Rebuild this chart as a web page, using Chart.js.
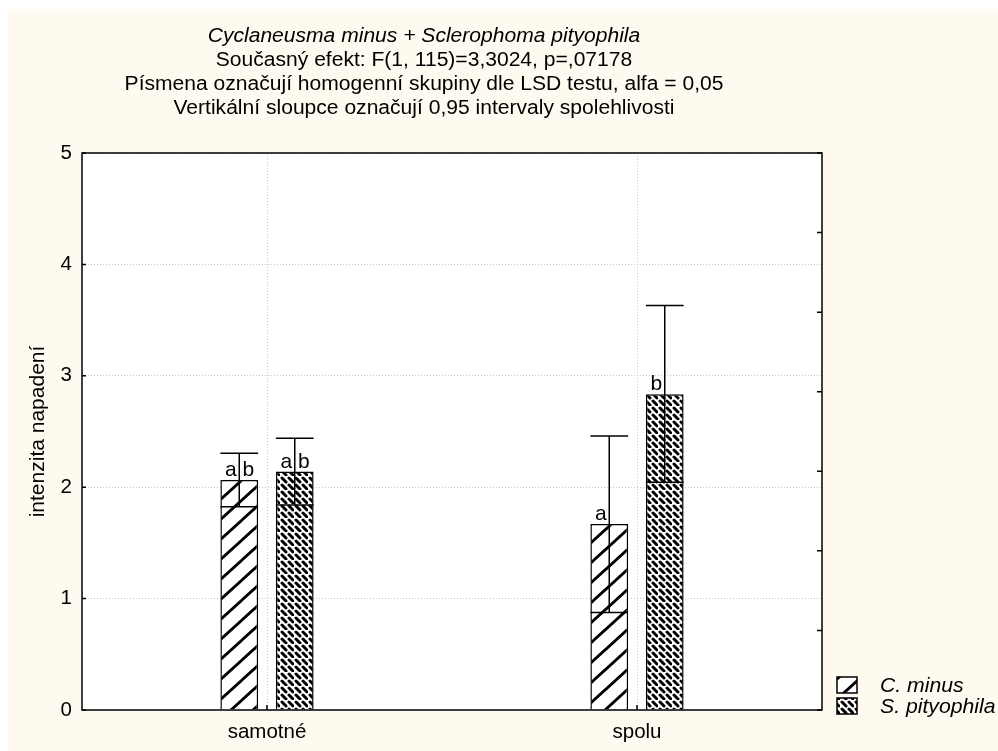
<!DOCTYPE html>
<html lang="cs">
<head>
<meta charset="UTF-8">
<title>Cyclaneusma minus + Sclerophoma pityophila</title>
<style>
    body { margin: 0; background: #ffffff; }
    #wrap { width: 998px; height: 751px; }
</style>
<script src="https://cdn.jsdelivr.net/npm/chart.js"></script>
</head>
<body>
<div id="wrap"><canvas id="chart" width="998" height="751"></canvas></div>
<script>
// kategorie a hodnoty (průměr, 95% interval)
const categories = ['samotné', 'spolu'];
const seriesNames = ['C. minus', 'S. pityophila'];
const cMinusMean = [2.065, 1.67];
const cMinusLow = [1.825, 0.875];
const cMinusHigh = [2.305, 2.46];
const sPitMean = [2.14, 2.835];
const sPitLow = [1.84, 2.045];
const sPitHigh = [2.44, 3.63];
// homogenní skupiny (první písmeno vlevo od úsečky, druhé vpravo)
const cMinusLetters = ['ab', 'a'];
const sPitLetters = ['ab', 'b'];
const yMin = 0, yMax = 5, yStep = 1;
const titleLines = [
    'Cyclaneusma minus + Sclerophoma pityophila',
    'Současný efekt: F(1, 115)=3,3024, p=,07178',
    'Písmena označují homogenní skupiny dle LSD testu, alfa = 0,05',
    'Vertikální sloupce označují 0,95 intervaly spolehlivosti'
];
const yTitle = 'intenzita napadení';

const FONT = '"Liberation Sans", Arial, sans-serif';
const CREAM = '#fefaf0';

// šrafování: šikmé čáry
function makeHatch() {
    const c = document.createElement('canvas');
    c.width = 22; c.height = 20;
    const g = c.getContext('2d');
    g.fillStyle = '#fff'; g.fillRect(0, 0, 22, 20);
    g.strokeStyle = '#000'; g.lineWidth = 2.8; g.lineCap = 'square';
    g.beginPath();
    g.moveTo(0, 20); g.lineTo(22, 0);
    g.moveTo(-22, 20); g.lineTo(0, 0);
    g.moveTo(22, 20); g.lineTo(44, 0);
    g.stroke();
    return g.createPattern(c, 'repeat');
}

// šrafování: "pletivo"
function makeWeave() {
    const c = document.createElement('canvas');
    c.width = 14; c.height = 14;
    const g = c.getContext('2d');
    g.fillStyle = '#fff'; g.fillRect(0, 0, 14, 14);
    g.strokeStyle = '#000'; g.lineWidth = 3; g.lineCap = 'round';
    g.beginPath();
    g.moveTo(2, 2); g.lineTo(6, 6);
    g.moveTo(9, 9); g.lineTo(13, 13);
    g.moveTo(9, 2); g.lineTo(13, 6);
    g.moveTo(2, 9); g.lineTo(6, 13);
    g.stroke();
    return g.createPattern(c, 'repeat');
}

const hatch = makeHatch();
const weave = makeWeave();

function scaledText(ctx, text, x, y, font, sx) {
    ctx.save();
    ctx.font = font;
    ctx.translate(x, y);
    ctx.scale(sx, 1);
    ctx.fillText(text, 0, 0);
    ctx.restore();
}

const background = {
    id: 'background',
    beforeDraw(chart) {
        const ctx = chart.ctx, a = chart.chartArea;
        ctx.save();
        ctx.fillStyle = '#ffffff';
        ctx.fillRect(0, 0, chart.width, chart.height);
        ctx.fillStyle = CREAM;
        ctx.fillRect(8, 9, chart.width - 8, chart.height - 9);
        ctx.fillStyle = '#ffffff';
        ctx.fillRect(a.left, a.top, a.right - a.left, a.bottom - a.top);
        ctx.restore();
    }
};

const errorBars = {
    id: 'errorBars',
    afterDatasetsDraw(chart) {
        const ctx = chart.ctx, y = chart.scales.y;
        const lows = [cMinusLow, sPitLow];
        const highs = [cMinusHigh, sPitHigh];
        const letters = [cMinusLetters, sPitLetters];
        ctx.save();
        ctx.strokeStyle = '#000';
        ctx.lineWidth = 1.5;
        chart.data.datasets.forEach((ds, i) => {
            chart.getDatasetMeta(i).data.forEach((bar, j) => {
                const half = bar.width / 2;
                const yl = y.getPixelForValue(lows[i][j]);
                const yh = y.getPixelForValue(highs[i][j]);
                ctx.beginPath();
                ctx.moveTo(bar.x, yl); ctx.lineTo(bar.x, yh);
                ctx.moveTo(bar.x - half, yh); ctx.lineTo(bar.x + half, yh);
                ctx.moveTo(bar.x - half, yl); ctx.lineTo(bar.x + half, yl);
                ctx.stroke();
                const t = letters[i][j];
                ctx.fillStyle = '#000';
                ctx.textAlign = 'center';
                ctx.textBaseline = 'alphabetic';
                ctx.font = '21px ' + FONT;
                if (t[0]) ctx.fillText(t[0], bar.x - 8.5, bar.y - 4);
                if (t[1]) ctx.fillText(t[1], bar.x + 9, bar.y - 4);
            });
        });
        ctx.restore();
    }
};

const frame = {
    id: 'frame',
    afterDraw(chart) {
        const ctx = chart.ctx, a = chart.chartArea;
        const x = chart.scales.x, y = chart.scales.y, y2 = chart.scales.y2;
        ctx.save();
        ctx.strokeStyle = '#000';
        ctx.lineWidth = 1.5;
        ctx.strokeRect(a.left, a.top, a.right - a.left, a.bottom - a.top);
        ctx.beginPath();
        // levá osa - ticky dovnitř
        y.ticks.forEach(t => {
            const py = y.getPixelForValue(t.value);
            ctx.moveTo(a.left, py); ctx.lineTo(a.left + 4, py);
        });
        // pravá osa
        y2.ticks.forEach(t => {
            const py = y2.getPixelForValue(t.value);
            ctx.moveTo(a.right, py); ctx.lineTo(a.right - 5, py);
        });
        // spodní osa
        categories.forEach((c, i) => {
            const px = x.getPixelForValue(i);
            ctx.moveTo(px, a.bottom); ctx.lineTo(px, a.bottom - 5);
        });
        ctx.stroke();

        // nadpis
        ctx.fillStyle = '#000';
        ctx.textAlign = 'center';
        ctx.textBaseline = 'middle';
        titleLines.forEach((line, i) => {
            const f = (i === 0 ? 'italic ' : '') + '19.5px ' + FONT;
            scaledText(ctx, line, 424, 37 + i * 24, f, 1.08);
        });

        // popisek osy y
        ctx.save();
        ctx.translate(38, (a.top + a.bottom) / 2);
        ctx.rotate(-Math.PI / 2);
        ctx.font = '21px ' + FONT;
        ctx.fillText(yTitle, 0, 0);
        ctx.restore();

        // legenda
        const fills = [hatch, weave];
        ctx.textAlign = 'left';
        seriesNames.forEach((name, i) => {
            const by = 677 + i * 21;
            ctx.fillStyle = fills[i];
            ctx.fillRect(837, by, 20, 16);
            ctx.lineWidth = 1.5;
            ctx.strokeRect(837, by, 20, 16);
            ctx.fillStyle = '#000';
            scaledText(ctx, name, 880, by + 9, 'italic 20px ' + FONT, 1.06);
        });
        ctx.restore();
    }
};

new Chart(document.getElementById('chart'), {
    type: 'bar',
    data: {
        labels: categories,
        datasets: [
            {
                label: seriesNames[0],
                data: cMinusMean,
                backgroundColor: hatch,
                borderColor: '#000',
                borderWidth: 1.5,
                categoryPercentage: 0.3,
                barPercentage: 0.68
            },
            {
                label: seriesNames[1],
                data: sPitMean,
                backgroundColor: weave,
                borderColor: '#000',
                borderWidth: 1.5,
                categoryPercentage: 0.3,
                barPercentage: 0.68
            }
        ]
    },
    options: {
        responsive: false,
        animation: false,
        layout: { padding: { top: 153, right: 176, left: 0, bottom: 0 } },
        plugins: {
            legend: { display: false },
            title: { display: false },
            tooltip: { enabled: false }
        },
        scales: {
            x: {
                grid: { offset: false, color: '#c8c8c8', drawTicks: false },
                border: { display: false, dash: [1, 2] },
                ticks: { color: '#000', font: { size: 20.5, family: FONT }, padding: 10 },
                afterFit: s => { s.height = 41; }
            },
            y: {
                min: yMin,
                max: yMax,
                ticks: { stepSize: yStep, color: '#000', font: { size: 20.5, family: FONT }, padding: 10 },
                grid: { color: '#c8c8c8', drawTicks: false },
                border: { display: false, dash: [1, 2] },
                afterFit: s => { s.width = 82; }
            },
            y2: {
                position: 'right',
                display: false,
                min: 0,
                max: 7,
                ticks: { stepSize: 1 }
            }
        }
    },
    plugins: [background, errorBars, frame]
});
</script>
</body>
</html>
